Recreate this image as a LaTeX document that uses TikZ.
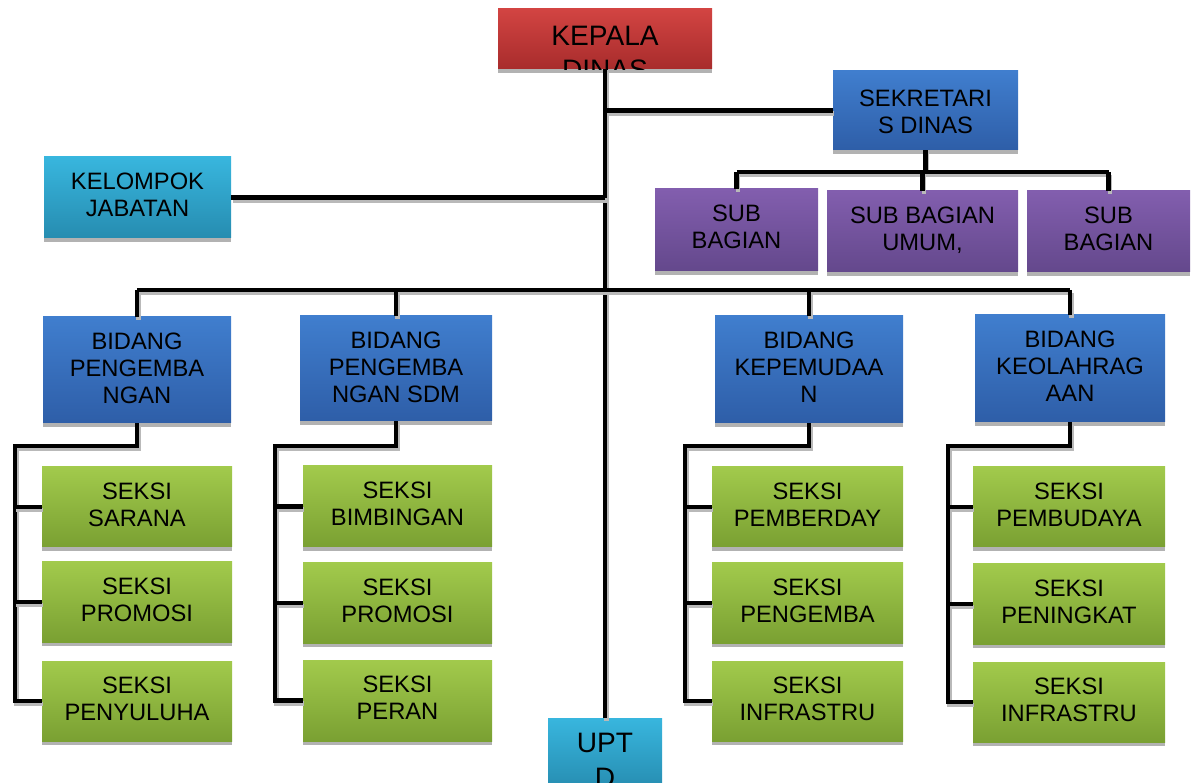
\documentclass[tikz,border=0pt]{standalone}
\usepackage{fontspec}
\setmainfont{Liberation Sans}
\usetikzlibrary{fit,shadows}

% box colours (top / bottom of the shading)
\definecolor{redtop}{RGB}{210,68,66}
\definecolor{redbot}{RGB}{168,44,44}
\definecolor{bluetop}{RGB}{64,126,206}
\definecolor{bluebot}{RGB}{46,94,168}
\definecolor{cyantop}{RGB}{56,182,222}
\definecolor{cyanbot}{RGB}{38,140,176}
\definecolor{purtop}{RGB}{130,94,174}
\definecolor{purbot}{RGB}{100,72,140}
\definecolor{grntop}{RGB}{162,202,76}
\definecolor{grnbot}{RGB}{122,160,50}

\tikzset{
  unit/.style={inner sep=0pt, drop shadow={shadow xshift=0cm, shadow yshift=-0.08cm, fill=gray!60, opacity=1}},
  redunit/.style={unit, top color=redtop, bottom color=redbot},
  blueunit/.style={unit, top color=bluetop, bottom color=bluebot},
  cyanunit/.style={unit, top color=cyantop, bottom color=cyanbot},
  purunit/.style={unit, top color=purtop, bottom color=purbot},
  seksiunit/.style={unit, top color=grntop, bottom color=grnbot},
  lbl/.style={inner sep=0pt, align=center, anchor=north, yshift=-0.31cm, font=\fontsize{13.5}{15.6}\selectfont},
  biglbl/.style={lbl, font=\fontsize{16}{19.5}\selectfont},
  conn/.style={line width=2.8pt, line join=miter,
    preaction={draw=gray!55, line width=2.8pt, transform canvas={xshift=0.03cm, yshift=-0.06cm}}}
}

% text of a box, cut off at the box border
\newcommand{\orgtext}[3][lbl]{%
  \begin{scope}
    \clip (#2.south west) rectangle (#2.north east);
    \node[#1] (#2t) at (#2.north) {#3};
  \end{scope}}

\begin{document}
\begin{tikzpicture}[x=0.02cm, y=-0.02cm]
\useasboundingbox (0,0) rectangle (1197,783);

% Kepala dinas and sekretariat
\node[redunit, fit={(498,9) (712,69)}] (kepala) {};
\orgtext[biglbl, yshift=-0.03cm]{kepala}{KEPALA\\DINAS}
\node[blueunit, fit={(833,71) (1018,150)}] (sekre) {};
\orgtext[lbl, yshift=-0.07cm]{sekre}{SEKRETARI\\S DINAS}
\node[cyanunit, fit={(44,157) (231,238)}] (kjf) {};
\orgtext{kjf}{KELOMPOK\\JABATAN}

% Sub bagian
\node[purunit, fit={(655,189) (818,271)}] (sub1) {};
\orgtext{sub1}{SUB\\BAGIAN}
\node[purunit, fit={(827,191) (1018,272)}] (sub2) {};
\orgtext{sub2}{SUB BAGIAN\\UMUM,}
\node[purunit, fit={(1027,191) (1190,272)}] (sub3) {};
\orgtext{sub3}{SUB\\BAGIAN}

% Bidang
\node[blueunit, fit={(43,317) (231,423)}] (bid1) {};
\orgtext{bid1}{BIDANG\\PENGEMBA\\NGAN}
\node[blueunit, fit={(300,316) (492,421)}] (bid2) {};
\orgtext{bid2}{BIDANG\\PENGEMBA\\NGAN SDM}
\node[blueunit, fit={(715,316) (903,423)}] (bid3) {};
\orgtext{bid3}{BIDANG\\KEPEMUDAA\\N}
\node[blueunit, fit={(975,315) (1165,422)}] (bid4) {};
\orgtext{bid4}{BIDANG\\KEOLAHRAG\\AAN}

% Seksi
\node[seksiunit, fit={(42,467) (232,547)}] (s11) {};
\orgtext{s11}{SEKSI\\SARANA}
\node[seksiunit, fit={(42,562) (232,642)}] (s12) {};
\orgtext{s12}{SEKSI\\PROMOSI}
\node[seksiunit, fit={(42,661) (232,741)}] (s13) {};
\orgtext{s13}{SEKSI\\PENYULUHA}
\node[seksiunit, fit={(303,466) (492,547)}] (s21) {};
\orgtext{s21}{SEKSI\\BIMBINGAN}
\node[seksiunit, fit={(303,563) (492,643)}] (s22) {};
\orgtext{s22}{SEKSI\\PROMOSI}
\node[seksiunit, fit={(303,660) (492,741)}] (s23) {};
\orgtext{s23}{SEKSI\\PERAN}
\node[seksiunit, fit={(712,467) (903,547)}] (s31) {};
\orgtext{s31}{SEKSI\\PEMBERDAY}
\node[seksiunit, fit={(712,563) (903,643)}] (s32) {};
\orgtext{s32}{SEKSI\\PENGEMBA}
\node[seksiunit, fit={(712,661) (903,741)}] (s33) {};
\orgtext{s33}{SEKSI\\INFRASTRU}
\node[seksiunit, fit={(973,467) (1165,547)}] (s41) {};
\orgtext{s41}{SEKSI\\PEMBUDAYA}
\node[seksiunit, fit={(973,564) (1165,644)}] (s42) {};
\orgtext{s42}{SEKSI\\PENINGKAT}
\node[seksiunit, fit={(973,662) (1165,742)}] (s43) {};
\orgtext{s43}{SEKSI\\INFRASTRU}

% UPTD
\node[cyanunit, fit={(548,718) (662,790)}] (upt) {};
\orgtext[biglbl]{upt}{UPT\\D}

% Connectors
\coordinate (subbus) at (0,172);
\coordinate (bidbus) at (0,290);
\draw[conn] (kepala.south) -- (upt.north);
\draw[conn] (kepala.south |- sekre.west) -- (sekre.west);
\draw[conn] (kjf.east) -- (kjf.east -| kepala.south);
\draw[conn] (sekre.south) -- (sekre.south |- subbus);
\draw[conn] (sub1.north |- subbus) -- (sub3.north |- subbus);
\foreach \s in {1,2,3}
  \draw[conn] (sub\s.north |- subbus) -- (sub\s.north);
\draw[conn] (bid1.north |- bidbus) -- (bid4.north |- bidbus);
\foreach \b in {1,2,3,4}
  \draw[conn] (bid\b.north |- bidbus) -- (bid\b.north);

% Seksi trees
\foreach \b/\sx in {1/15, 2/275, 3/685, 4/948} {
  \coordinate (sp\b) at (\sx,446);
  \draw[conn] (bid\b.south) -- (bid\b.south |- sp\b) -- (sp\b) -- (sp\b |- s\b3.west) -- (s\b3.west);
  \draw[conn] (sp\b |- s\b1.west) -- (s\b1.west);
  \draw[conn] (sp\b |- s\b2.west) -- (s\b2.west);
}

\end{tikzpicture}
\end{document}
